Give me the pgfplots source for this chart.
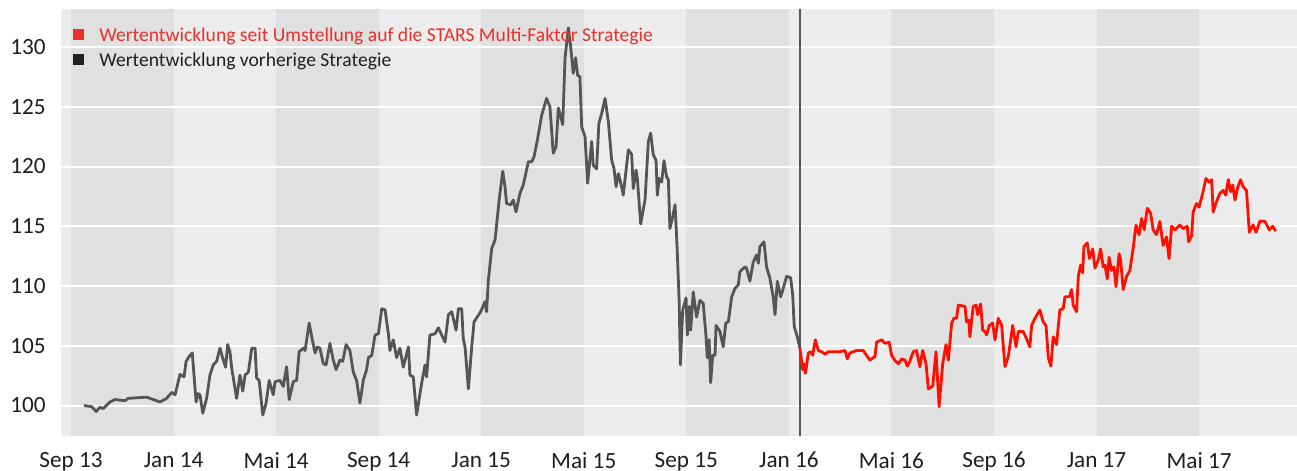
\documentclass[border=0pt]{standalone}
\usepackage{pgfplots}
\pgfplotsset{compat=1.18}
\usepackage{pgfplotstable}
\usepackage{fontspec}
\setmainfont{Carlito}
\definecolor{bglight}{RGB}{236,236,236}
\definecolor{bgdark}{RGB}{224,224,224}
\definecolor{linegray}{RGB}{85,85,85}
\definecolor{linered}{RGB}{255,15,0}
\definecolor{legred}{RGB}{235,48,40}
\definecolor{legdark}{RGB}{35,31,32}
\definecolor{txt}{RGB}{30,30,30}

\pgfplotstableread{
m v
0.51 100.0
0.81 99.9
0.98 99.5
1.13 99.85
1.26 99.75
1.52 100.3
1.72 100.5
2.11 100.4
2.23 100.6
2.95 100.7
3.47 100.3
3.73 100.6
3.93 101.1
4.06 100.9
4.25 102.6
4.41 102.4
4.49 103.7
4.64 104.2
4.73 104.4
4.88 100.3
4.96 101.0
5.03 100.9
5.14 99.35
5.29 100.6
5.42 102.55
5.55 103.4
5.68 103.7
5.81 104.8
5.94 103.8
6.03 103.2
6.11 105.1
6.20 104.5
6.27 103.1
6.46 100.6
6.59 102.55
6.70 101.2
6.79 102.55
6.92 102.8
7.05 104.8
7.18 104.8
7.24 102.3
7.34 102.1
7.48 99.2
7.61 100.2
7.73 102.1
7.89 100.9
7.96 102.0
8.15 102.1
8.28 101.6
8.41 103.25
8.51 100.5
8.67 102.0
8.80 102.1
8.90 104.5
9.06 104.8
9.13 104.6
9.29 106.9
9.39 105.75
9.52 104.4
9.61 104.9
9.71 104.8
9.84 103.5
9.95 103.4
10.10 105.2
10.23 103.8
10.34 103.0
10.49 103.8
10.60 103.7
10.73 105.1
10.88 104.6
11.01 102.8
11.14 102.1
11.27 100.2
11.40 102.1
11.53 103.0
11.60 104.0
11.73 104.2
11.86 105.9
11.99 106.0
12.12 108.1
12.25 108.0
12.38 106.0
12.44 104.6
12.57 105.5
12.70 104.0
12.83 104.8
12.96 103.2
13.16 104.9
13.22 102.55
13.35 102.4
13.48 99.2
13.68 101.9
13.81 103.4
13.87 102.4
14.00 105.9
14.20 106.0
14.33 106.5
14.59 105.3
14.72 107.6
14.85 107.85
15.02 106.3
15.11 108.1
15.24 108.1
15.30 105.6
15.37 104.9
15.50 101.4
15.63 104.9
15.72 107.0
15.98 107.85
16.15 108.7
16.21 107.85
16.28 110.5
16.41 113.15
16.54 113.85
16.70 117.2
16.84 119.6
16.93 118.3
16.99 116.9
17.15 116.8
17.25 117.2
17.36 116.2
17.51 117.75
17.64 118.45
17.84 120.4
17.97 120.4
18.06 120.8
18.19 122.2
18.36 124.3
18.55 125.7
18.68 125.0
18.81 121.1
18.92 121.65
19.01 124.9
19.18 123.5
19.27 129.1
19.40 131.6
19.49 130.0
19.59 127.8
19.68 129.1
19.76 127.65
19.85 127.5
19.92 123.3
20.05 122.5
20.15 118.6
20.31 122.1
20.37 120.1
20.50 119.8
20.59 123.6
20.70 124.45
20.83 125.7
20.96 123.75
21.09 120.5
21.18 119.85
21.26 118.3
21.35 119.4
21.48 118.3
21.54 117.6
21.74 121.4
21.87 121.0
21.93 118.15
22.04 119.7
22.09 119.0
22.22 115.2
22.39 117.2
22.52 122.1
22.61 122.8
22.71 121.0
22.82 120.5
22.87 117.6
22.94 119.0
23.04 118.7
23.13 120.5
23.23 119.15
23.30 118.9
23.36 114.8
23.47 115.8
23.56 116.8
23.64 113.3
23.72 108.8
23.77 103.4
23.86 108.0
23.99 109.0
24.04 105.9
24.11 108.3
24.17 106.3
24.27 109.5
24.40 107.4
24.53 108.8
24.66 108.55
24.77 105.75
24.82 104.0
24.89 105.5
24.95 101.9
25.03 104.2
25.12 104.2
25.16 106.7
25.31 106.2
25.44 104.9
25.54 106.9
25.64 107.0
25.77 109.1
25.90 109.8
26.03 110.1
26.09 111.2
26.29 111.6
26.35 111.5
26.48 110.4
26.61 112.0
26.74 112.6
26.81 111.9
26.87 113.3
27.03 113.7
27.13 111.6
27.26 110.65
27.39 109.1
27.46 107.6
27.55 110.4
27.68 109.1
27.78 109.8
27.91 110.8
28.07 110.7
28.15 109.25
28.21 106.6
28.33 105.75
28.43 104.8
}\oldstrat

\pgfplotstableread{
m v
28.43 104.8
28.54 103.0
28.59 103.5
28.65 102.7
28.76 104.4
28.85 104.5
28.93 104.2
29.03 105.5
29.15 104.6
29.28 104.5
29.41 104.3
29.54 104.5
29.99 104.5
30.19 104.6
30.28 103.9
30.38 104.4
30.64 104.6
30.90 104.6
31.16 103.8
31.36 104.1
31.42 105.3
31.62 105.5
31.75 105.2
31.91 105.3
32.01 104.2
32.14 103.75
32.27 103.5
32.40 103.9
32.53 103.8
32.62 103.3
32.72 103.7
32.85 104.5
32.98 104.6
33.11 103.25
33.22 104.6
33.35 103.5
33.44 101.4
33.61 101.6
33.74 104.5
33.86 99.9
34.00 103.5
34.13 105.1
34.22 103.8
34.35 106.9
34.44 107.3
34.54 107.3
34.61 108.4
34.87 108.3
34.93 107.0
35.02 107.15
35.06 105.75
35.19 108.3
35.30 108.4
35.36 107.6
35.48 108.5
35.56 106.3
35.65 106.2
35.71 105.9
35.82 106.7
35.95 106.9
36.04 105.5
36.17 107.3
36.30 106.7
36.43 103.25
36.56 104.1
36.73 106.7
36.86 104.9
36.95 106.2
37.14 106.2
37.27 105.6
37.40 104.9
37.47 106.7
37.60 107.3
37.79 108.0
37.92 107.0
38.03 106.7
38.12 104.0
38.22 103.3
38.31 105.75
38.44 105.1
38.57 108.0
38.70 108.1
38.77 109.1
38.94 109.1
39.03 109.7
39.09 108.4
39.22 107.85
39.29 110.8
39.38 111.75
39.46 111.1
39.51 113.3
39.64 113.6
39.72 112.3
39.85 113.1
39.94 111.5
40.07 112.2
40.16 113.1
40.26 111.6
40.33 111.75
40.42 110.6
40.49 112.4
40.59 111.3
40.68 111.6
40.76 109.95
40.88 112.7
40.94 112.2
41.04 109.7
41.17 110.8
41.30 111.3
41.43 113.15
41.54 115.1
41.66 114.3
41.76 115.65
41.86 114.7
41.98 116.5
42.11 116.1
42.21 114.7
42.34 114.3
42.47 115.4
42.60 113.4
42.73 114.1
42.83 112.3
42.93 115.0
43.06 114.7
43.25 115.1
43.38 114.8
43.54 115.0
43.59 113.7
43.71 114.2
43.77 116.2
43.90 116.9
44.00 116.6
44.14 117.75
44.27 119.0
44.40 118.7
44.49 118.9
44.55 116.2
44.68 117.05
44.81 117.75
44.94 118.0
45.04 117.6
45.14 118.9
45.23 117.9
45.31 118.45
45.40 117.2
45.50 118.2
45.62 118.9
45.72 118.3
45.85 118.0
45.96 114.5
46.11 115.1
46.22 114.5
46.38 115.45
46.57 115.4
46.74 114.7
46.87 115.0
46.99 114.6
}\newstrat

\begin{document}
\begin{tikzpicture}
\begin{axis}[
  name=ax,
  scale only axis,
  width=618pt, height=213.5pt,
  xmin=-0.39, xmax=47.82,
  ymin=97.45, ymax=133.18,
  axis background/.style={fill=bglight},
  axis line style={draw=none},
  major tick length=0pt,
  tick style={draw=none},
  xtick={0,4,8,12,16,20,24,28,32,36,40,44},
  xticklabels={Sep 13,Jan 14,Mai 14,Sep 14,Jan 15,Mai 15,Sep 15,Jan 16,Mai 16,Sep 16,Jan 17,Mai 17},
  ytick={100,105,110,115,120,125,130},
  yticklabels={100,105,110,115,120,125,130},
  ticklabel style={font=\fontsize{11.6pt}{13pt}\selectfont, text=txt},
  xticklabel style={yshift=-4.6pt},
  yticklabel style={xshift=-4.1pt},
  clip=true,
]
\fill[bgdark] (axis cs:0,97.45) rectangle (axis cs:4,133.18);
\fill[bgdark] (axis cs:8,97.45) rectangle (axis cs:12,133.18);
\fill[bgdark] (axis cs:16,97.45) rectangle (axis cs:20,133.18);
\fill[bgdark] (axis cs:24,97.45) rectangle (axis cs:28,133.18);
\fill[bgdark] (axis cs:32,97.45) rectangle (axis cs:36,133.18);
\fill[bgdark] (axis cs:40,97.45) rectangle (axis cs:44,133.18);
\draw[white, line width=1pt] (axis cs:-0.39,100) -- (axis cs:47.82,100);
\draw[white, line width=1pt] (axis cs:-0.39,105) -- (axis cs:47.82,105);
\draw[white, line width=1pt] (axis cs:-0.39,110) -- (axis cs:47.82,110);
\draw[white, line width=1pt] (axis cs:-0.39,115) -- (axis cs:47.82,115);
\draw[white, line width=1pt] (axis cs:-0.39,120) -- (axis cs:47.82,120);
\draw[white, line width=1pt] (axis cs:-0.39,125) -- (axis cs:47.82,125);
\draw[white, line width=1pt] (axis cs:-0.39,130) -- (axis cs:47.82,130);
\draw[linegray, line width=0.75pt] (axis cs:28.43,97.45) -- (axis cs:28.43,133.18);
\addplot[linegray, line width=1.4pt, line join=round, no marks] table[x=m,y=v] {\oldstrat};
\addplot[linered, line width=1.4pt, line join=round, no marks] table[x=m,y=v] {\newstrat};
\end{axis}
\fill[legred] ([shift={(6pt,-15.75pt)}]ax.north west) rectangle ([shift={(11.5pt,-10.25pt)}]ax.north west);
\fill[legdark] ([shift={(6pt,-28.25pt)}]ax.north west) rectangle ([shift={(11.5pt,-22.75pt)}]ax.north west);
\node[anchor=base west, inner sep=0pt, text=legred, font=\fontsize{9.8pt}{11pt}\selectfont] at ([shift={(19pt,-16.25pt)}]ax.north west) {Wertentwicklung seit Umstellung auf die STARS Multi-Faktor Strategie};
\node[anchor=base west, inner sep=0pt, text=legdark, font=\fontsize{9.8pt}{11pt}\selectfont] at ([shift={(19pt,-28.75pt)}]ax.north west) {Wertentwicklung vorherige Strategie};
\pgfresetboundingbox
\path[use as bounding box] ([shift={(-30.5pt,-17.5pt)}]ax.south west) rectangle ([shift={(0pt,4.5pt)}]ax.north east);
\end{tikzpicture}
\end{document}
